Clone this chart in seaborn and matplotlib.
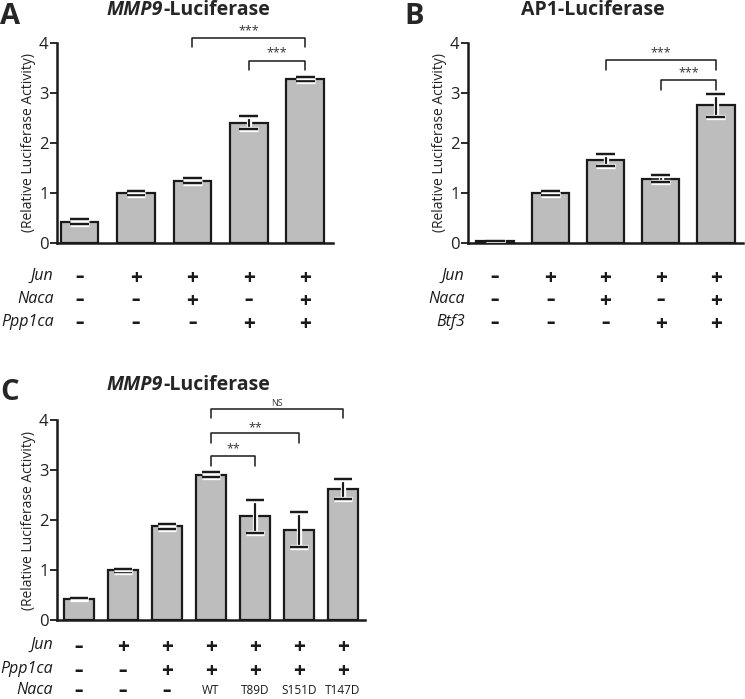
import numpy as np
import pandas as pd
import matplotlib
matplotlib.use("Agg")
import matplotlib.pyplot as plt
import matplotlib.patheffects as pe
import seaborn as sns

# ---------------- data ----------------
a_groups = ["1", "2", "3", "4", "5"]
a_values = [0.42, 1.00, 1.24, 2.40, 3.27]
a_errors = [0.05, 0.04, 0.05, 0.13, 0.04]
a_rows = ["Jun", "Naca", "Ppp1ca"]
a_signs = [["–", "+", "+", "+", "+"],
           ["–", "–", "+", "–", "+"],
           ["–", "–", "–", "+", "+"]]

b_groups = ["1", "2", "3", "4", "5"]
b_values = [0.04, 1.00, 1.65, 1.28, 2.75]
b_errors = [0.00, 0.04, 0.12, 0.07, 0.23]
b_rows = ["Jun", "Naca", "Btf3"]
b_signs = [["–", "+", "+", "+", "+"],
           ["–", "–", "+", "–", "+"],
           ["–", "–", "–", "+", "+"]]

c_groups = ["1", "2", "3", "4", "5", "6", "7"]
c_values = [0.43, 1.00, 1.88, 2.91, 2.08, 1.81, 2.63]
c_errors = [0.01, 0.03, 0.05, 0.05, 0.33, 0.35, 0.20]
c_rows = ["Jun", "Ppp1ca", "Naca"]
c_signs = [["–", "+", "+", "+", "+", "+", "+"],
           ["–", "–", "+", "+", "+", "+", "+"],
           ["–", "–", "–", "WT", "T89D", "S151D", "T147D"]]

ylabel = "(Relative Luciferase Activity)"

sns.set_theme(style="white")
plt.rcParams["font.family"] = ["Open Sans", "DejaVu Sans"]

W, H = 745, 699
fig = plt.figure(figsize=(W / 100, H / 100), dpi=100)


def px_axes(left, right, top, bottom):
    return fig.add_axes([left / W, 1 - bottom / H, (right - left) / W, (bottom - top) / H])


def draw_panel(ax, groups, values, errors, xlim, width):
    df = pd.DataFrame({"g": groups, "v": values})
    sns.barplot(data=df, x="g", y="v", ax=ax, color="#bdbdbd", saturation=1,
                width=width, edgecolor="#1a1a1a", linewidth=1.6, errorbar=None)
    x = np.arange(len(groups))
    eb = ax.errorbar(x, values, yerr=errors, fmt="none", ecolor="#1a1a1a",
                     elinewidth=1.5, capsize=6.8, capthick=1.6, zorder=5)
    for art in list(eb.lines[1]) + list(eb.lines[2]):
        art.set_path_effects([pe.withStroke(linewidth=3.8, foreground="white"), pe.Normal()])
    ax.set_xlim(*xlim)
    ax.set_ylim(0, 4)
    ax.set_yticks([0, 1, 2, 3, 4])
    ax.set_xticks([])
    ax.set_xlabel("")
    ax.set_ylabel(ylabel, fontsize=10, labelpad=2, color="#222222")
    for s in ["top", "right"]:
        ax.spines[s].set_visible(False)
    for s in ["left", "bottom"]:
        ax.spines[s].set_color("#1a1a1a")
        ax.spines[s].set_linewidth(1.8)
    ax.tick_params(axis="y", left=True, direction="out", length=5, width=1.3,
                   labelsize=12, pad=1, color="#1a1a1a", labelcolor="#222222")
    ax.patch.set_alpha(0)


def bracket(ax, x1, x2, y, leg1, leg2, text, ty, fs=9):
    ax.plot([x1, x1, x2, x2], [y - leg1, y, y, y - leg2], color="#1a1a1a",
            lw=1.1, clip_on=False, zorder=6)
    ax.text((x1 + x2) / 2, ty, text, ha="center", va="center", fontsize=fs,
            color="#333333", clip_on=False)


def rows(ax, names, signs, ys):
    trans = ax.get_xaxis_transform()
    for name, sg, y in zip(names, signs, ys):
        ax.text(-0.012, y, name, transform=ax.transAxes, ha="right", va="center",
                fontsize=11.5, style="italic", color="#1a1a1a")
        for i, s in enumerate(sg):
            if s == "+":
                ax.text(i, y, s, transform=trans, ha="center", va="center_baseline",
                        fontsize=15, fontweight="bold", color="#1a1a1a")
            elif s == "–":
                ax.text(i, y, s, transform=trans, ha="center", va="center_baseline",
                        fontsize=12, fontweight="heavy", color="#1a1a1a")
            else:
                ax.text(i, y, s, transform=trans, ha="center", va="center",
                        fontsize=8.5, color="#1a1a1a")


def title(x_split, y_px, left_part, right_part):
    fig.text(x_split / W, 1 - y_px / H, left_part, fontsize=14, fontweight="bold",
             style="italic", ha="right", va="center")
    fig.text(x_split / W, 1 - y_px / H, right_part, fontsize=14, fontweight="bold",
             ha="left", va="center")


# ---------------- Panel A ----------------
axA = px_axes(57, 333, 43, 243)
draw_panel(axA, a_groups, a_values, a_errors, (-0.40, 4.49), 0.67)
bracket(axA, 2, 4, 4.10, 0.18, 0.18, "***", 4.24)
bracket(axA, 3, 4, 3.64, 0.18, 0.18, "***", 3.80)
rows(axA, a_rows, a_signs, [-0.165, -0.28, -0.395])
fig.text(0 / W, 1 - 16 / H, "A", fontsize=21, fontweight="bold", va="center", ha="left")
title(163, 10, "MMP9", "-Luciferase")

# ---------------- Panel B ----------------
axB = px_axes(468, 743, 43, 243)
draw_panel(axB, b_groups, b_values, b_errors, (-0.49, 4.49), 0.68)
bracket(axB, 2, 4, 3.66, 0.20, 0.20, "***", 3.80)
bracket(axB, 3, 4, 3.26, 0.20, 0.20, "***", 3.40)
rows(axB, b_rows, b_signs, [-0.165, -0.28, -0.395])
fig.text(404 / W, 1 - 16 / H, "B", fontsize=21, fontweight="bold", va="center", ha="left")
fig.text(593 / W, 1 - 10 / H, "AP1-Luciferase", fontsize=14, fontweight="bold",
         ha="center", va="center")

# ---------------- Panel C ----------------
axC = px_axes(57, 365, 420, 620)
draw_panel(axC, c_groups, c_values, c_errors, (-0.5, 6.5), 0.67)
bracket(axC, 3, 6, 4.22, 0.18, 0.18, "NS", 4.32, fs=6.5)
bracket(axC, 3, 5, 3.74, 0.20, 0.20, "**", 3.84)
bracket(axC, 3, 4, 3.28, 0.20, 0.20, "**", 3.42)
rows(axC, c_rows, c_signs, [-0.125, -0.245, -0.35])
fig.text(0 / W, 1 - 393 / H, "C", fontsize=21, fontweight="bold", va="center", ha="left")
title(163, 385, "MMP9", "-Luciferase")

fig.savefig("out.png", dpi=100)
